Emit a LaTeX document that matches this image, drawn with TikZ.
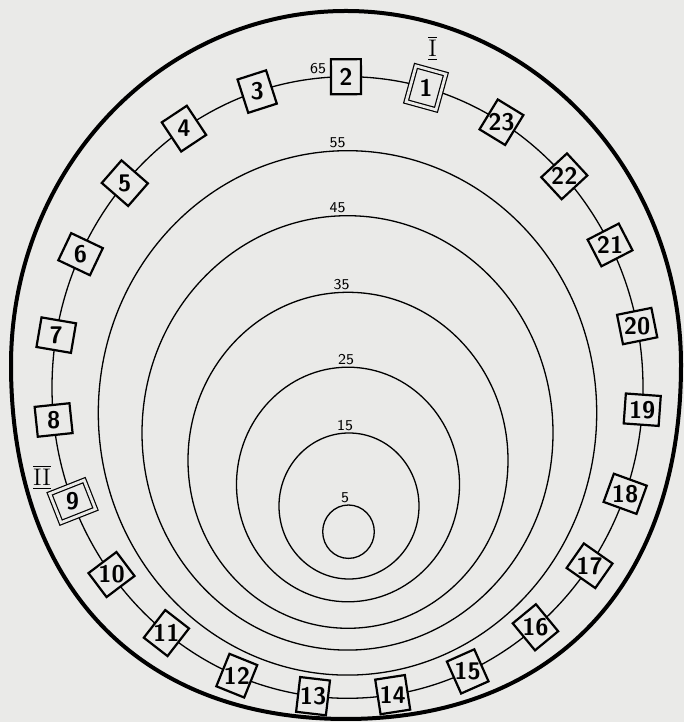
\documentclass[tikz,border=0pt]{standalone}
\usepackage{tikz}

\definecolor{paper}{RGB}{234,234,232}
\tikzset{
  numbox/.style={draw=black, fill=paper, line width=1.1pt, inner sep=0pt,
                 minimum width=15pt, minimum height=17.5pt},
  twinbox/.style={numbox, minimum width=15.5pt, minimum height=18.5pt,
                  line width=0.6pt, double=paper, double distance=1.4pt},
  numtxt/.style={font=\fontsize{12}{13}\selectfont\sffamily\bfseries, inner sep=0pt},
  ringlab/.style={font=\fontsize{7.5}{8}\selectfont\sffamily, inner sep=0.5pt, anchor=south},
  roman/.style={font=\fontsize{12}{13}\selectfont\rmfamily, inner sep=0pt}
}

\begin{document}
\begin{tikzpicture}[x=0.5pt, y=0.5pt]
  \fill[paper] (0,0) rectangle (684,722);
  \useasboundingbox (0,0) rectangle (684,722);

  % outer rim: round on top, a little fuller at the bottom
  \draw[line width=2pt] (681,357) arc[start angle=0, end angle=180, x radius=335, y radius=354]
    .. controls (11,137.5) and (138.3,3) .. (346,3)
    .. controls (553.7,3) and (681,137.5) .. (681,357) -- cycle;

  % rings with their labels
  \foreach \lab/\cx/\cy/\rx/\ry/\lx in {
    65/347.5/334.5/295.5/310.8/318,
    55/347.5/309.1/249.2/262.2/337.7,
    45/347.5/289.1/205.5/217.2/337.7,
    35/348/261.7/160/168/341.7,
    25/348/237.5/111.5/117.3/346,
    15/349/216/70/73/345,
    5/348.5/190.3/25.8/26.7/345} {
    \draw[line width=0.65pt] (\cx,\cy) ellipse [x radius=\rx, y radius=\ry];
    \node[ringlab] (r\lab) at (\lx,{\cy+\ry+1}) {\lab};
  }

  % numbered stations on ring 65
  \begin{scope}[shift={(347.5,334.5)}]
  \foreach \n/\a/\st in {1/74.6/twinbox, 2/90.3/numbox, 3/107.8/numbox,
      4/123.6/numbox, 5/138.9/numbox, 6/154.6/numbox, 7/170.3/numbox,
      8/186.0/numbox, 9/201.5/twinbox, 10/217.0/numbox, 11/232.2/numbox,
      12/248.0/numbox, 13/263.3/numbox, 14/278.8/numbox, 15/294.0/numbox,
      16/309.5/numbox, 17/325.0/numbox, 18/340.0/numbox, 19/355.9/numbox,
      20/11.4/numbox, 21/27.3/numbox, 22/42.8/numbox, 23/58.6/numbox} {
    \node[\st, rotate=\a-90] (b\n) at (\a:295.5 and 310.8) {};
    \node[numtxt] (n\n) at (b\n) {\n};
  }
  \end{scope}

  \node[roman] (mI) at (432.7,674) {$\overline{\underline{\mathrm{I}}}$};
  \node[roman] (mII) at (42,245) {$\overline{\underline{\mathrm{II}}}$};
\end{tikzpicture}
\end{document}
